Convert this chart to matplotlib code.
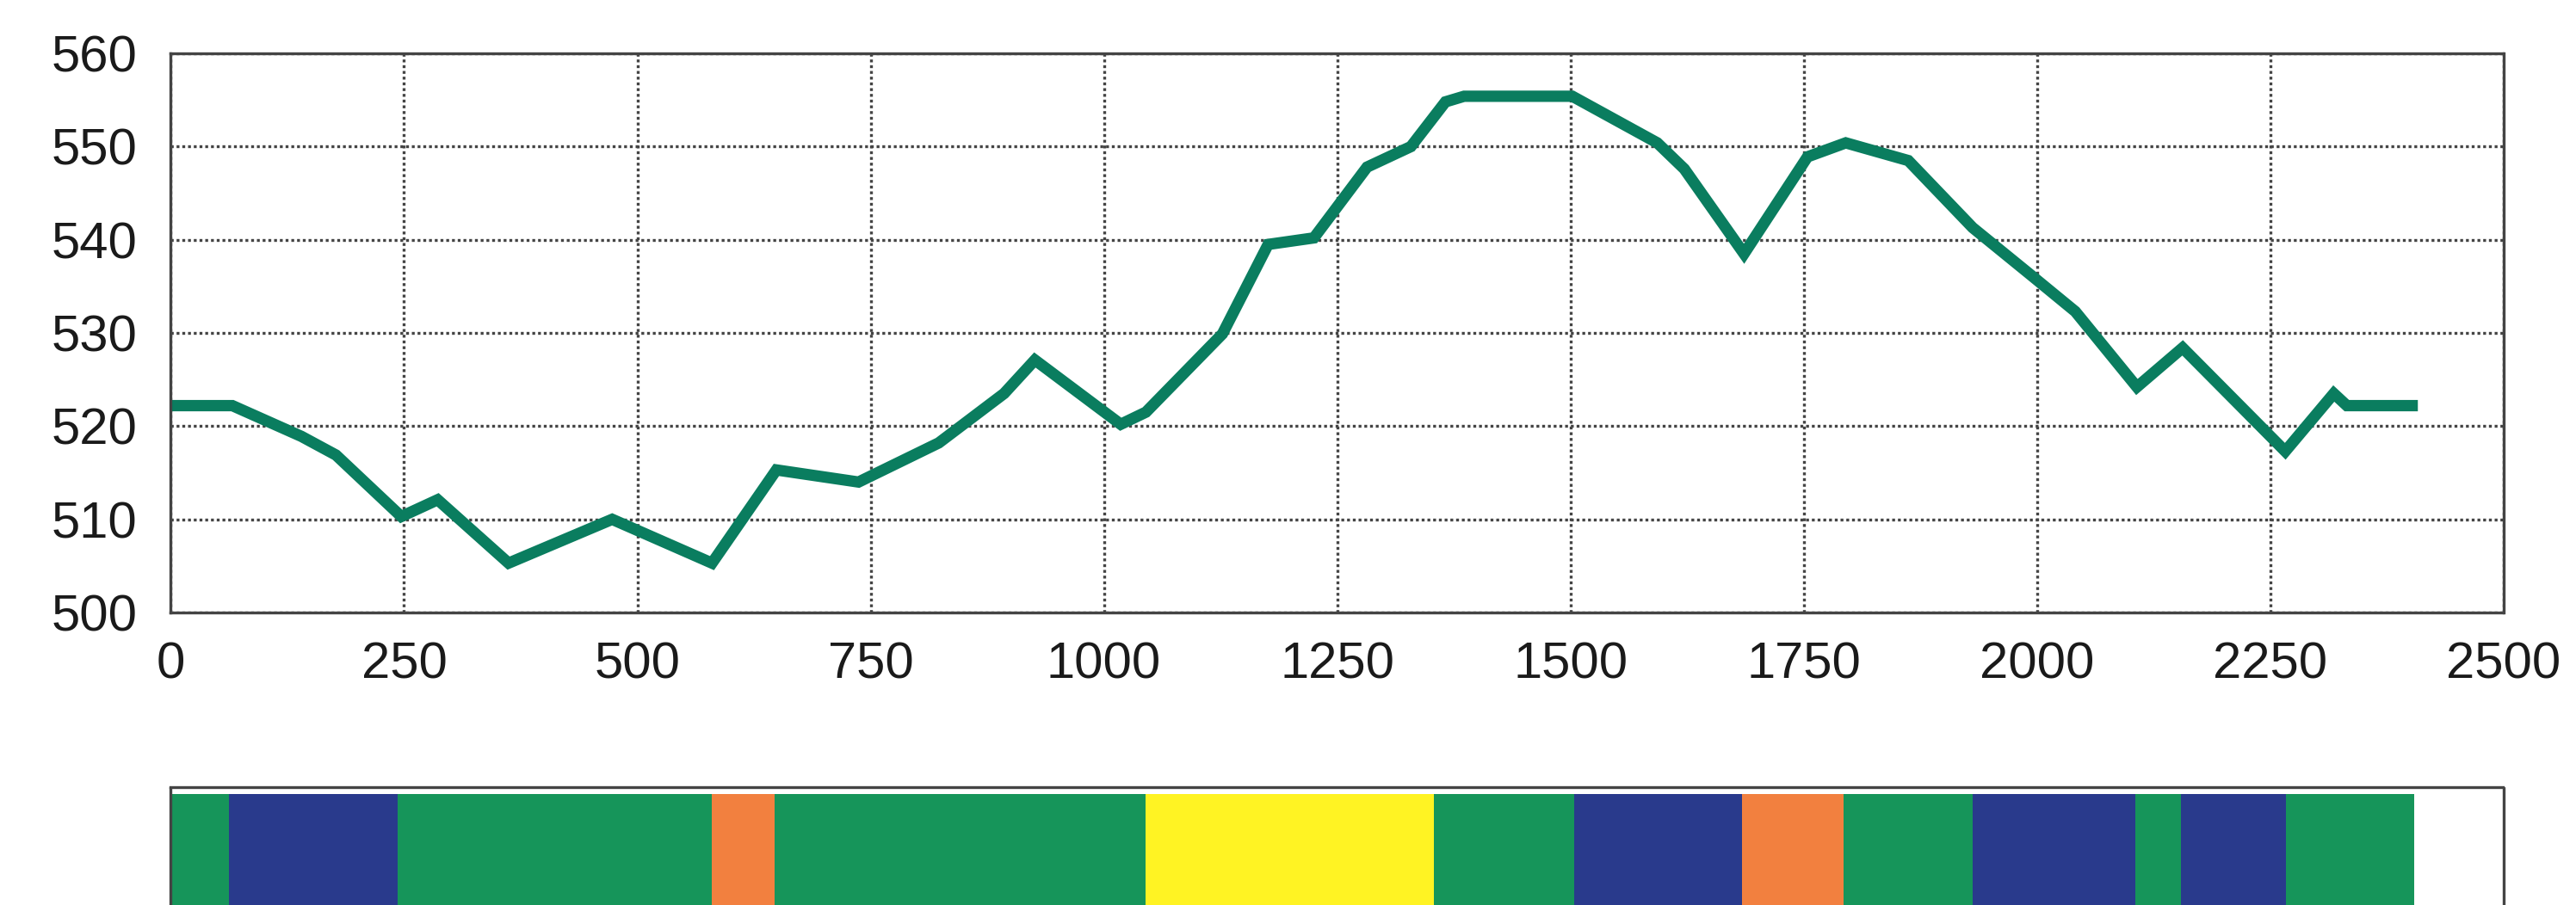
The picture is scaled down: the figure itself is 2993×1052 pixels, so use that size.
import matplotlib
matplotlib.use("Agg")
import matplotlib.pyplot as plt

# elevation profile along the route
distance = [0, 66, 140, 177, 247, 286, 362, 473, 580, 649, 737, 823, 893, 926,
            1018, 1045, 1127, 1176, 1225, 1282, 1329, 1366, 1386, 1502, 1593,
            1622, 1686, 1754, 1795, 1862, 1931, 1996, 2041, 2107, 2156, 2266,
            2318, 2332, 2402]
elevation = [522.2, 522.2, 518.9, 516.9, 510.3, 512.1, 505.3, 510.0, 505.3,
             515.3, 514.0, 518.2, 523.5, 527.1, 520.2, 521.5, 529.9, 539.5,
             540.2, 547.8, 550.0, 554.8, 555.4, 555.4, 550.4, 547.6, 538.5,
             548.9, 550.4, 548.5, 541.3, 536.0, 532.3, 524.2, 528.4, 517.3,
             523.5, 522.2, 522.2]

# land cover segments along the same route
seg_start = [0, 62, 243, 580, 647, 1045, 1354, 1504, 1684, 1793, 1931, 2105, 2154, 2267]
seg_end = [62, 243, 580, 647, 1045, 1354, 1504, 1684, 1793, 1931, 2105, 2154, 2267, 2404]
seg_class = ["green", "blue", "green", "orange", "green", "yellow", "green",
             "blue", "orange", "green", "blue", "green", "blue", "green"]

class_colors = {
    "green": "#16955a",
    "blue": "#293a8c",
    "orange": "#f2803f",
    "yellow": "#fff323",
}

x_ticks = [0, 250, 500, 750, 1000, 1250, 1500, 1750, 2000, 2250, 2500]
y_ticks = [500, 510, 520, 530, 540, 550, 560]

plt.rcParams["font.family"] = ["Liberation Sans", "DejaVu Sans"]

grid_color = "#444444"
dotted = (0, (1, 1))

fig = plt.figure(figsize=(29.93, 10.52), dpi=100)

# top: profile line
ax = fig.add_axes([0.0663, 0.3232, 0.9056, 0.6178])
ax.plot(distance, elevation, color="#0a7d5f", lw=9.5, solid_joinstyle="miter")
ax.set_xlim(0, 2500)
ax.set_ylim(500, 560)
ax.set_xticks(x_ticks)
ax.set_yticks(y_ticks)
ax.grid(True, color=grid_color, linestyle=dotted, lw=2.4)
ax.set_axisbelow(True)
for s in ax.spines.values():
    s.set_color(grid_color)
    s.set_linestyle(dotted)
    s.set_linewidth(2.4)
ax.tick_params(axis="both", length=0, labelsize=43, labelcolor="#1a1a1a")
ax.tick_params(axis="y", pad=28)
ax.tick_params(axis="x", pad=24)

# bottom: land cover strip
ax2 = fig.add_axes([0.0663, -0.02, 0.9056, 0.150])
for start, end, cls in zip(seg_start, seg_end, seg_class):
    ax2.barh(0.5, end - start, left=start, height=1.0,
             color=class_colors[cls], align="center", linewidth=0)
ax2.set_xlim(0, 2500)
ax2.set_ylim(0, 1.05)
ax2.set_xticks([])
ax2.set_yticks([])
for s in ax2.spines.values():
    s.set_color(grid_color)
    s.set_linestyle(dotted)
    s.set_linewidth(2.4)

fig.savefig("out.png", dpi=100)
